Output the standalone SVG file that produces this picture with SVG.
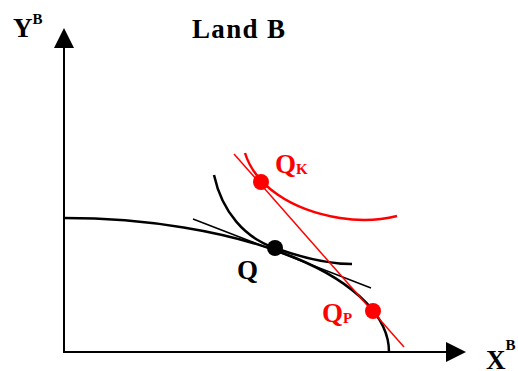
<svg xmlns="http://www.w3.org/2000/svg" width="518" height="371" viewBox="0 0 518 371">
<defs>
<style>
.t{font-family:"Liberation Serif","Times New Roman",serif;font-weight:bold;font-size:27px;}
.s{font-size:15px;}
.blk{fill:#000;}
.red{fill:#ff0000;}
.axis{stroke:#000;stroke-width:2;fill:none;}
.curve{stroke:#000;stroke-width:2.5;fill:none;}
.thin{stroke:#000;stroke-width:1.5;fill:none;}
.rcurve{stroke:#ff0000;stroke-width:2.5;fill:none;}
.rthin{stroke:#ff0000;stroke-width:1.5;fill:none;}
</style>
</defs>
<rect width="518" height="371" fill="#fff"/>
<g id="axes">
<line class="axis" x1="64" y1="353" x2="64" y2="46"/>
<polygon points="64,28 54,48 74,48" fill="#000"/>
<line class="axis" x1="63" y1="352" x2="448" y2="352"/>
<polygon points="466,352 446,342 446,362" fill="#000"/>
</g>
<g id="connectors">
<path id="ppf" class="curve" d="M64,218 A325,134 0 0 1 389,352"/>
<line id="tangent" class="thin" x1="193" y1="219" x2="371" y2="288"/>
<path id="ic" class="curve" d="M214,175 C222,212 245,238 275,248 C300,257 325,264 352,264"/>
<path id="ic-red" class="rcurve" d="M245,153 C255,185 290,210 340,218 C365,222 385,219 397,216"/>
<line id="price-line" class="rthin" x1="234" y1="154" x2="404" y2="347"/>
</g>
<g id="node-Q"><circle cx="275" cy="248" r="8" fill="#000"/></g>
<g id="node-QK"><circle cx="261" cy="182" r="8" fill="#ff0000"/></g>
<g id="node-QP"><circle cx="373" cy="311" r="8" fill="#ff0000"/></g>
<g id="labels">
<text class="t blk" x="13" y="37">Y<tspan class="s" dy="-13">B</tspan></text>
<text class="t blk" x="192" y="38" textLength="93" lengthAdjust="spacing">Land B</text>
<text class="t blk" x="486" y="369">X<tspan class="s" dy="-19">B</tspan></text>
<text class="t blk" x="237" y="279">Q</text>
<text class="t red" x="275" y="173">Q<tspan class="s" dy="1">K</tspan></text>
<text class="t red" x="322" y="322">Q<tspan class="s" dy="1">P</tspan></text>
</g>
</svg>
